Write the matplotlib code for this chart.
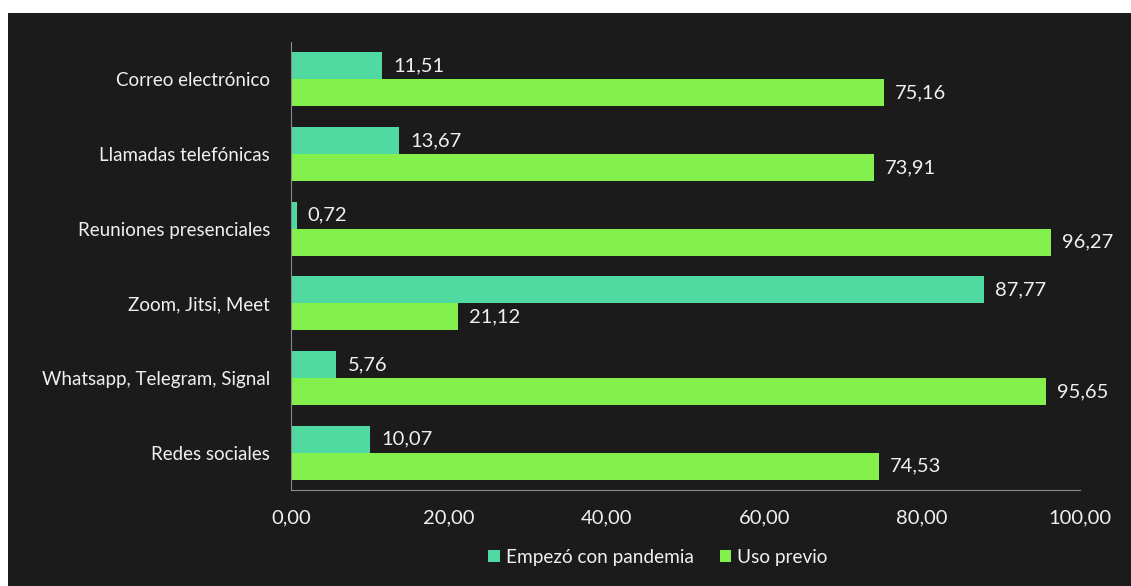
import numpy as np
import matplotlib
matplotlib.use('Agg')
import matplotlib.pyplot as plt
from matplotlib.patches import Rectangle

categories = ['Correo electrónico', 'Llamadas telefónicas', 'Reuniones presenciales',
              'Zoom, Jitsi, Meet', 'Whatsapp, Telegram, Signal', 'Redes sociales']
empezo = [11.51, 13.67, 0.72, 87.77, 5.76, 10.07]
previo = [75.16, 73.91, 96.27, 21.12, 95.65, 74.53]
series_names = ['Empezó con pandemia', 'Uso previo']
xticks = [0, 20, 40, 60, 80, 100]

BG = '#1b1b1b'
TEAL = '#50d9a0'
GREEN = '#84f04c'
TXT = '#f0f0f0'

plt.rcParams['font.family'] = ['Lato', 'DejaVu Sans']

fig = plt.figure(figsize=(11.31, 5.86), dpi=100, facecolor='white')
fig.patches.append(Rectangle((8 / 1131, 0), 1, 1 - 13 / 586, transform=fig.transFigure,
                             facecolor=BG, edgecolor='none', zorder=-1))

ax = fig.add_axes([291 / 1131, 1 - 490 / 586, (1080 - 291) / 1131, (490 - 42) / 586])
ax.set_facecolor(BG)

y = np.arange(len(categories))
h = 0.36
b1 = ax.barh(y - h / 2, empezo, height=h, color=TEAL, label=series_names[0])
b2 = ax.barh(y + h / 2, previo, height=h, color=GREEN, label=series_names[1])

def fmt(v):
    return f'{v:.2f}'.replace('.', ',')

for bars, vals in ((b1, empezo), (b2, previo)):
    for bar, v in zip(bars, vals):
        ax.annotate(fmt(v), (v, bar.get_y() + bar.get_height() / 2),
                    xytext=(8, 0), textcoords='offset points', va='center', ha='left',
                    color=TXT, fontsize=14.5)

ax.set_ylim(len(categories) - 0.5, -0.5)
ax.set_xlim(0, 100)
ax.set_yticks(y)
ax.set_yticklabels(categories)
ax.set_xticks(xticks)
ax.set_xticklabels([fmt(t) for t in xticks])
ax.tick_params(axis='both', colors=TXT, length=0)
ax.tick_params(axis='y', labelsize=13.5, pad=15)
ax.tick_params(axis='x', labelsize=14.5, pad=14)
for s in ('top', 'right'):
    ax.spines[s].set_visible(False)
for s in ('left', 'bottom'):
    ax.spines[s].set_color('#8a8a8a')

leg = fig.legend(handles=[b1, b2], loc='center', bbox_to_anchor=(658 / 1131, 1 - 557 / 586),
                 ncol=2, frameon=False, fontsize=13.7, handlelength=0.6, handleheight=0.6,
                 handletextpad=0.3, columnspacing=1.4)
for t in leg.get_texts():
    t.set_color(TXT)

fig.savefig('out.png', dpi=100, facecolor='white')
